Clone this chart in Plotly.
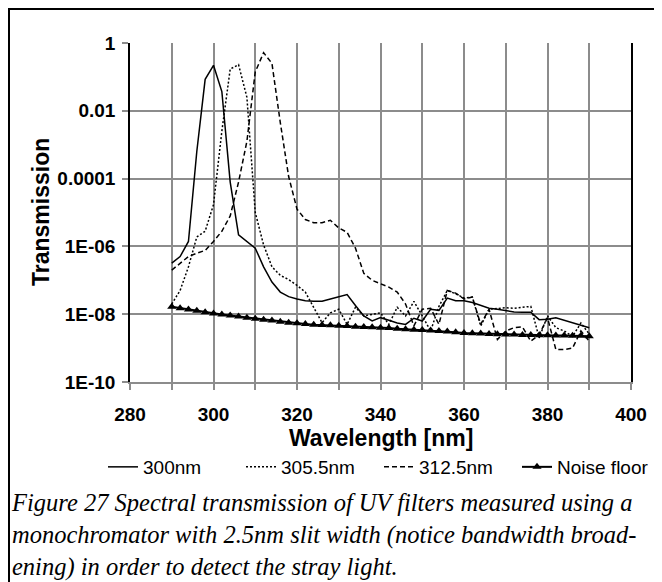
import plotly.graph_objects as go

wavelength = [290, 292, 294, 296, 298, 300, 302, 304, 306, 308, 310, 312, 314, 316, 318, 320,
              322, 324, 326, 328, 330, 332, 334, 336, 338, 340, 342, 344, 346, 348, 350, 352,
              354, 356, 358, 360, 362, 364, 366, 368, 370, 372, 374, 376, 378, 380, 382, 384,
              386, 388, 390]

t_300 = [3.2e-7, 5.0e-7, 1.4e-6, 6.3e-4, 8.5e-2, 0.22, 3.7e-2, 7.9e-5, 2.2e-6, 1.4e-6,
         8.9e-7, 2.5e-7, 8.9e-8, 4.5e-8, 3.3e-8, 2.8e-8, 2.5e-8, 2.4e-8, 2.4e-8, 2.8e-8,
         3.3e-8, 3.8e-8, 1.8e-8, 8.9e-9, 6.3e-9, 7.9e-9, 6.6e-9, 5.5e-9, 5.0e-9, 7.6e-9,
         6.3e-9, 1.4e-8, 1.3e-8, 3.0e-8, 2.5e-8, 2.5e-8, 2.2e-8, 1.8e-8, 1.5e-8, 1.4e-8,
         1.26e-8, 1.17e-8, 1.15e-8, 1.15e-8, 6.9e-9, 7.1e-9, 7.8e-9, 6.6e-9, 5.5e-9, 4.7e-9,
         4.0e-9]

t_305_5 = [2.0e-8, 5.0e-8, 2.5e-7, 1.9e-6, 2.8e-6, 1.7e-5, 2.5e-3, 0.17, 0.23, 2.5e-2,
           1.0e-5, 1.1e-6, 2.5e-7, 1.4e-7, 1.05e-7, 7.1e-8, 4.5e-8, 1.6e-8, 5.6e-9, 1.1e-8,
           1.4e-8, 5.0e-9, 1.6e-8, 8.9e-9, 1.0e-8, 1.1e-8, 5.0e-9, 1.6e-8, 8.9e-9, 2.4e-8,
           8.9e-9, 3.2e-9, 1.7e-8, 5.0e-8, 4.0e-8, 3.0e-8, 3.2e-8, 4.5e-9, 1.4e-8, 1.5e-8,
           1.55e-8, 1.5e-8, 1.6e-8, 1.7e-8, 2.0e-9, 8.9e-9, 4.0e-9, 3.2e-9, 2.2e-9, 5.5e-9,
           2.6e-9]

t_312_5 = [2.0e-7, 3.2e-7, 5.0e-7, 6.3e-7, 7.6e-7, 1.4e-6, 2.8e-6, 7.9e-6, 7.9e-5, 1.26e-3,
           0.14, 0.52, 0.25, 4.5e-3, 1.15e-4, 1.26e-5, 6.2e-6, 5.0e-6, 5.0e-6, 5.9e-6,
           3.5e-6, 2.6e-6, 8.9e-7, 1.6e-7, 1.0e-7, 7.9e-8, 6.3e-8, 4.5e-8, 2.0e-8, 4.5e-9,
           1.4e-8, 1.5e-8, 5.0e-9, 5.0e-8, 4.2e-8, 2.8e-8, 3.2e-8, 5.0e-9, 1.4e-8, 1.8e-9,
           3.2e-9, 4.0e-9, 4.2e-9, 1.6e-9, 2.5e-9, 7.9e-9, 9.1e-10, 9.1e-10, 1.0e-9, 3.2e-9,
           1.6e-9]

t_noise = [1.66e-8, 1.51e-8, 1.38e-8, 1.26e-8, 1.15e-8, 1.05e-8, 9.8e-9, 9.1e-9, 8.5e-9, 7.9e-9,
           7.4e-9, 6.9e-9, 6.5e-9, 6.0e-9, 5.6e-9, 5.4e-9, 5.1e-9, 4.9e-9, 4.8e-9, 4.7e-9,
           4.6e-9, 4.5e-9, 4.3e-9, 4.2e-9, 4.1e-9, 4.0e-9, 3.9e-9, 3.7e-9, 3.6e-9, 3.5e-9,
           3.4e-9, 3.3e-9, 3.2e-9, 3.1e-9, 2.95e-9, 2.8e-9, 2.75e-9, 2.7e-9, 2.6e-9, 2.55e-9,
           2.5e-9, 2.5e-9, 2.45e-9, 2.45e-9, 2.4e-9, 2.4e-9, 2.35e-9, 2.35e-9, 2.3e-9, 2.3e-9,
           2.25e-9]

series_names = ["300nm", "305.5nm", "312.5nm", "Noise floor"]

x_tickvals = [280, 290, 300, 310, 320, 330, 340, 350, 360, 370, 380, 390, 400]
x_ticktext = ["280", "", "300", "", "320", "", "340", "", "360", "", "380", "", "400"]
y_tickvals = [1, 0.01, 1e-4, 1e-6, 1e-8, 1e-10]
y_ticktext = ["1", "0.01", "0.0001", "1E-06", "1E-08", "1E-10"]

caption = ("Figure 27 Spectral transmission of UV filters measured using a<br>"
           "monochromator with 2.5nm slit width (notice bandwidth broad-<br>"
           "ening) in order to detect the stray light.")

# page offset of the browser body (8px default margin)
OFF = 8
W, H = 662 - OFF, 582 - OFF
PX0, PX1, PY0, PY1 = 130, 631, 43, 382  # plot area in page pixels
L, T = PX0 - OFF, PY0 - OFF
R = W - L - (PX1 - PX0)
B = H - T - (PY1 - PY0)

def px(x):
    return (x - PX0) / (PX1 - PX0)

def py(y):
    return (PY1 - y) / (PY1 - PY0)

fig = go.Figure()
fig.add_trace(go.Scatter(x=wavelength, y=t_300, name=series_names[0], mode="lines",
                         line=dict(color="black", width=1.5)))
fig.add_trace(go.Scatter(x=wavelength, y=t_305_5, name=series_names[1], mode="lines",
                         line=dict(color="black", width=1.5, dash="2px,2px")))
fig.add_trace(go.Scatter(x=wavelength, y=t_312_5, name=series_names[2], mode="lines",
                         line=dict(color="black", width=1.5, dash="5px,3px")))
fig.add_trace(go.Scatter(x=wavelength, y=t_noise, name=series_names[3], mode="lines+markers",
                         line=dict(color="black", width=2),
                         marker=dict(symbol="triangle-up", size=8, color="black")))

tick_font = dict(size=19, family="Liberation Sans, Arial", weight="bold", color="black")

fig.update_layout(
    width=W, height=H,
    margin=dict(l=L, r=R, t=T, b=B, pad=0),
    paper_bgcolor="white", plot_bgcolor="white",
    font=dict(family="Liberation Sans, Arial, sans-serif", color="black"),
    showlegend=True,
    legend=dict(orientation="h", x=px(103), xanchor="left", y=py(467), yanchor="middle",
                font=dict(size=19), itemwidth=30, entrywidth=93, tracegroupgap=0,
                bgcolor="rgba(0,0,0,0)"),
    xaxis=dict(range=[280, 400], tickmode="array", tickvals=x_tickvals, ticktext=x_ticktext,
               showgrid=True, gridcolor="#8c8c8c", gridwidth=1.5,
               showline=True, linecolor="#8c8c8c", linewidth=1.5,
               ticks="outside", ticklen=6, tickcolor="#8c8c8c", tickwidth=1.5,
               tickfont=tick_font, ticklabelstandoff=8, zeroline=False),
    yaxis=dict(type="log", range=[-10, 0], tickmode="array", tickvals=y_tickvals,
               ticktext=y_ticktext,
               showgrid=True, gridcolor="#8c8c8c", gridwidth=1.5,
               showline=True, linecolor="black", linewidth=1.5, mirror=True,
               ticks="outside", ticklen=6, tickcolor="#8c8c8c", tickwidth=1.5,
               tickfont=tick_font, ticklabelstandoff=3, zeroline=False),
    annotations=[
        dict(text="<b>Transmission</b>", textangle=-90, xref="paper", yref="paper",
             x=px(41), y=py(212), xanchor="center", yanchor="middle", showarrow=False,
             font=dict(size=23)),
        dict(text="<b>Wavelength [nm]</b>", xref="paper", yref="paper",
             x=px(380.5), y=py(438), xanchor="center", yanchor="middle", showarrow=False,
             font=dict(size=23)),
        dict(text=caption, xref="paper", yref="paper", x=px(9), y=py(487),
             xanchor="left", yanchor="top", align="left", showarrow=False,
             font=dict(size=24.5, family="Liberation Serif, Times New Roman, serif",
                       style="italic")),
    ],
    shapes=[
        dict(type="rect", xref="paper", yref="paper", x0=px(OFF + 1), y0=py(700), x1=px(720),
             y1=py(OFF + 1), line=dict(color="black", width=2), fillcolor="rgba(0,0,0,0)",
             layer="below"),
    ],
)

fig.write_html("out.html")
